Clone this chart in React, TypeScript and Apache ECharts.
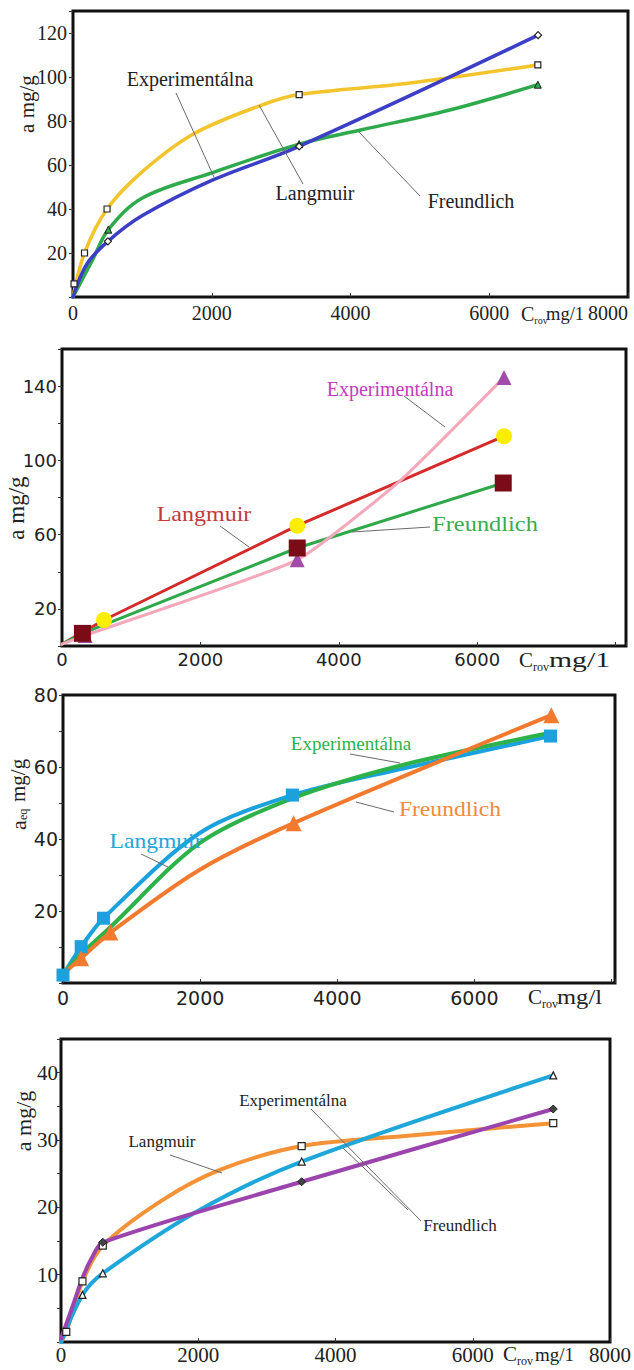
import React, { useEffect, useRef } from 'react';
import * as echarts from 'echarts';

// ---------- Panel 1 ----------
const p1LangmuirCurve = [[0, 0], [166, 20], [491, 40], [1000, 57], [1730, 74], [2700, 87], [3260, 92], [4800, 97], [6700, 105.5]];
const p1LangmuirPts = [[15, 6], [166, 20], [491, 40], [3260, 92], [6700, 105.5]];
const p1FreundlichCurve = [[0, 0], [284, 17], [509, 30.6], [1000, 45], [2000, 56.4], [3260, 69.5], [4160, 76], [5430, 85], [6700, 96.5]];
const p1FreundlichPts = [[509, 30.6], [3260, 69.5], [6700, 96.5]];
const p1ExpCurve = [[0, 0], [200, 15], [503, 25.3], [1000, 37], [2000, 53], [3260, 68.5], [6704, 119]];
const p1ExpPts = [[503, 25.3], [3260, 68.5], [6704, 119]];

// ---------- Panel 2 ----------
const p2LangmuirLine = [[0, 1], [607, 14], [3399, 64.8], [6387, 113]];
const p2LangmuirPts = [[607, 14], [3399, 64.8], [6387, 113]];
const p2FreundlichLine = [[0, 1], [295, 6.8], [3399, 52.8], [6376, 87.8]];
const p2FreundlichPts = [[295, 6.8], [3399, 52.8], [6376, 87.8]];
const p2ExpLine = [[0, 1], [335, 5.7], [3399, 46.4], [4900, 89.5], [6387, 144.7]];
const p2ExpPts = [[335, 5.7], [3399, 46.4], [6387, 144.7]];

// ---------- Panel 3 ----------
const p3LangmuirCurve = [[0, 2.2], [265, 10.1], [590, 18], [1988, 41.6], [3345, 52.2], [4944, 59.5], [7109, 68.6]];
const p3LangmuirPts = [[0, 2.2], [265, 10.1], [590, 18], [3345, 52.2], [7109, 68.6]];
const p3FreundlichCurve = [[0, 2.5], [265, 6.9], [690, 14], [1988, 31.4], [3363, 44.4], [7121, 74.4]];
const p3FreundlichPts = [[265, 6.9], [690, 14], [3363, 44.4], [7121, 74.4]];
const p3ExpCurve = [[0, 2.5], [265, 8], [690, 15.5], [1988, 38.8], [3345, 51.3], [4938, 60.5], [7109, 69.5]];

// ---------- Panel 4 ----------
const p4LangmuirCurve = [[0, 0], [77, 1.5], [313, 9], [609, 14.3], [1467, 21], [2324, 25.6], [3507, 29.1], [5015, 30.6], [7173, 32.5]];
const p4LangmuirPts = [[77, 1.5], [313, 9], [609, 14.3], [3507, 29.1], [7173, 32.5]];
const p4ExpCurve = [[0, 0], [313, 7], [609, 10.2], [2000, 19.5], [3507, 26.8], [7173, 39.6]];
const p4ExpPts = [[313, 7], [609, 10.2], [3507, 26.8], [7173, 39.6]];
const p4FreundlichCurve = [[0, 0.5], [166, 5.2], [313, 9.5], [450, 12.5], [609, 14.8], [3507, 23.8], [7173, 34.6]];
const p4FreundlichPts = [[609, 14.8], [3507, 23.8], [7173, 34.6]];

// tick label sets
const p1XLabels = [0, 2000, 4000, 6000, 8000];
const p1YLabels = [20, 40, 60, 80, 100, 120];
const p2XLabels = [0, 2000, 4000, 6000];
const p2YLabels = [20, 60, 100, 140];
const p3XLabels = [0, 2000, 4000, 6000];
const p3YLabels = [20, 40, 60, 80];
const p4XLabels = [0, 2000, 4000, 6000, 8000];
const p4YLabels = [10, 20, 30, 40];

const serif = "'Liberation Serif', 'DejaVu Serif', serif";
const sans = "'DejaVu Sans', sans-serif";

function mkX(gi: number, max: number, family: string, size: number, margin: number, shown: number[], alignMax = false) {
  return {
    type: 'value', gridIndex: gi, min: 0, max, interval: 2000,
    axisLine: { show: false }, splitLine: { show: false },
    axisTick: { show: true, inside: true, length: 4, lineStyle: { color: '#333', width: 1 } },
    axisLabel: {
      margin, fontFamily: family, fontSize: size, color: '#222',
      showMinLabel: true, showMaxLabel: true,
      alignMaxLabel: alignMax ? 'right' : undefined,
      formatter: (v: number) => (shown.includes(v) ? String(v) : ''),
    },
  };
}

function mkY(gi: number, max: number, interval: number, family: string, size: number, margin: number, shown: number[]) {
  return {
    type: 'value', gridIndex: gi, min: 0, max, interval,
    axisLine: { show: false }, splitLine: { show: false },
    axisTick: { show: true, inside: false, length: 4, lineStyle: { color: '#333', width: 1 } },
    axisLabel: {
      margin, fontFamily: family, fontSize: size, color: '#222',
      showMinLabel: true, showMaxLabel: true,
      formatter: (v: number) => (shown.includes(v) ? String(v) : ''),
    },
  };
}

function line(gi: number, data: number[][], color: string, width: number, smooth: number | boolean, z = 2) {
  return {
    type: 'line', xAxisIndex: gi, yAxisIndex: gi, data, smooth,
    showSymbol: false, symbol: 'none', silent: true, z,
    lineStyle: { color, width, cap: 'round', join: 'round' },
  };
}

function marks(gi: number, data: number[][], symbol: string, size: number, fill: string, stroke: string, sw: number, z = 5) {
  return {
    type: 'scatter', xAxisIndex: gi, yAxisIndex: gi, data, symbol, symbolSize: size,
    clip: false, silent: true, z,
    itemStyle: { color: fill, borderColor: stroke, borderWidth: sw, opacity: 1 },
  };
}

function txt(x: number, y: number, text: string, size: number, color: string, family = serif, align = 'center', extra: any = {}) {
  return {
    type: 'text', x, y, silent: true, z: 100,
    style: {
      text, fontSize: size, fontFamily: family, fill: color,
      align, verticalAlign: 'middle', textAlign: align, textVerticalAlign: 'middle',
    },
    ...extra,
  };
}

function seg(x1: number, y1: number, x2: number, y2: number) {
  return { type: 'line', silent: true, z: 100, shape: { x1, y1, x2, y2 }, style: { stroke: '#6a6a6a', lineWidth: 1 } };
}

// "C" + subscript "rov" + unit, laid out left to right
function crov(x: number, y: number, cSize: number, rovSize: number, mgX: number, mgSize: number, mgText: string, mgScale = 1) {
  const cW = cSize * 0.667;
  return [
    txt(x, y, 'C', cSize, '#222', serif, 'left'),
    txt(x + cW, y + cSize * 0.32, 'rov', rovSize, '#222', serif, 'left'),
    txt(mgX, y, mgText, mgSize, '#222', serif, 'left', { scaleX: mgScale }),
  ];
}

function vname(x: number, y: number, text: string, size: number, family = serif) {
  return txt(x, y, text, size, '#222', family, 'center', { rotation: Math.PI / 2 });
}

const option: any = {
  animation: false,
  backgroundColor: '#ffffff',
  grid: [
    { left: 73, top: 11, width: 555, height: 286, show: true, borderColor: '#111', borderWidth: 3, backgroundColor: 'transparent' },
    { left: 62, top: 349, width: 564, height: 297, show: true, borderColor: '#111', borderWidth: 3, backgroundColor: 'transparent' },
    { left: 63, top: 695, width: 552, height: 288, show: true, borderColor: '#111', borderWidth: 3, backgroundColor: 'transparent' },
    { left: 61, top: 1039, width: 549, height: 303, show: true, borderColor: '#111', borderWidth: 3, backgroundColor: 'transparent' },
  ],
  xAxis: [
    mkX(0, 8000, serif, 20, 6, p1XLabels, true),
    mkX(1, 8150, sans, 18, 4, p2XLabels),
    mkX(2, 8050, sans, 19, 5, p3XLabels),
    mkX(3, 8000, serif, 21, 2, p4XLabels),
  ],
  yAxis: [
    mkY(0, 130, 20, serif, 20, 6, p1YLabels),
    mkY(1, 160, 20, sans, 18, 5, p2YLabels),
    mkY(2, 80, 10, sans, 19, 5, p3YLabels),
    mkY(3, 45, 5, serif, 21, 3, p4YLabels),
  ],
  series: [
    // panel 1
    line(0, p1LangmuirCurve, '#f3c42c', 3.5, 0.35),
    line(0, p1FreundlichCurve, '#2eaa4c', 3.5, 0.35),
    line(0, p1ExpCurve, '#3c3fc6', 3.5, 0.35),
    marks(0, p1LangmuirPts, 'rect', 6, '#ffffff', '#222', 1.2),
    marks(0, p1FreundlichPts, 'triangle', 7, '#2eaa4c', '#222', 1),
    marks(0, p1ExpPts, 'diamond', 7, '#ffffff', '#222', 1.2),
    // panel 2
    line(1, p2LangmuirLine, '#d42a2a', 3, false),
    line(1, p2FreundlichLine, '#2fa84a', 3, false),
    line(1, p2ExpLine, '#f3a8bb', 3, 0.15),
    marks(1, p2ExpPts, 'triangle', 15, '#a24ca9', '#a24ca9', 0),
    marks(1, p2LangmuirPts, 'circle', 16, '#fbee00', '#fbee00', 0, 6),
    marks(1, p2FreundlichPts, 'rect', 17, '#7a0c18', '#7a0c18', 0, 7),
    // panel 3
    line(2, p3LangmuirCurve, '#1ba1dc', 4, 0.3),
    line(2, p3ExpCurve, '#2db24a', 4, 0.3),
    line(2, p3FreundlichCurve, '#f17a2e', 4, 0.3),
    marks(2, p3LangmuirPts, 'rect', 13, '#1ba1dc', '#1ba1dc', 0),
    marks(2, p3FreundlichPts, 'triangle', 16, '#f17a2e', '#f17a2e', 0),
    // panel 4
    line(3, p4LangmuirCurve, '#f39236', 4, 0.3),
    line(3, p4ExpCurve, '#1fa7da', 4, 0.3),
    line(3, p4FreundlichCurve, '#9c44ad', 4, 0.3),
    marks(3, p4LangmuirPts, 'rect', 7, '#ffffff', '#222', 1.2),
    marks(3, p4ExpPts, 'triangle', 7, '#ffffff', '#222', 1.2),
    marks(3, p4FreundlichPts, 'diamond', 8, '#444', '#222', 1),
  ],
  graphic: [
    // panel 1
    txt(190, 79, 'Experimentálna', 20, '#222'),
    seg(176, 93, 214, 177),
    txt(315, 193, 'Langmuir', 20, '#222'),
    seg(259, 105, 303, 184),
    txt(471, 201, 'Freundlich', 20, '#222'),
    seg(358, 131, 420, 196),
    vname(27, 104, 'a mg/g', 21),
    ...crov(521, 314, 20, 10, 546, 18.5, 'mg/1'),
    // panel 2
    txt(390, 389, 'Experimentálna', 20, '#c23bc2'),
    seg(404, 396, 445, 427),
    txt(204, 514, 'Langmuir', 20, '#c0393b', serif, 'center', { scaleX: 1.2 }),
    seg(220, 526, 249, 547),
    txt(485, 524, 'Freundlich', 20, '#3aaa50', serif, 'center', { scaleX: 1.22 }),
    seg(430, 527, 352, 532),
    vname(16, 508, 'a mg/g', 23),
    ...crov(519, 660, 21, 12, 549, 22, 'mg/1', 1.35),
    // panel 3
    txt(351, 743, 'Experimentálna', 19, '#2fb04a'),
    seg(350, 754, 400, 763),
    txt(450, 810, 'Freundlich', 20, '#f08a40', serif, 'center', { scaleX: 1.18 }),
    seg(394, 812, 356, 802),
    txt(156, 842, 'Langmuir', 20, '#25a5d8', serif, 'center', { scaleX: 1.18 }),
    seg(141, 854, 168, 867),
    {
      type: 'group', x: 18, y: 788, rotation: Math.PI / 2, silent: true,
      children: [
        txt(-42, 0, 'a', 22, '#222', serif, 'left'),
        txt(-32, 5, 'eq', 12, '#222', serif, 'left'),
        txt(-14, 0, 'mg/g', 21, '#222', serif, 'left'),
      ],
    },
    ...crov(528, 997, 21, 12, 557, 21, 'mg/l', 1.17),
    // panel 4
    txt(293, 1100, 'Experimentálna', 17, '#222'),
    txt(162, 1141, 'Langmuir', 17, '#222'),
    seg(170, 1155, 222, 1173),
    txt(460, 1225, 'Freundlich', 17, '#222'),
    seg(311, 1109, 421, 1221),
    seg(343, 1148, 408, 1210),
    vname(23, 1121, 'a mg/g', 22),
    ...crov(503, 1354, 21, 12, 535, 19, 'mg/1'),
  ],
};

export default function App() {
  const ref = useRef<HTMLDivElement>(null);
  useEffect(() => {
    document.body.style.margin = '0';
    const chart = echarts.init(ref.current as HTMLDivElement, null, { renderer: 'svg' });
    chart.setOption(option);
    return () => chart.dispose();
  }, []);
  return <div ref={ref} style={{ width: 634, height: 1370 }} />;
}
